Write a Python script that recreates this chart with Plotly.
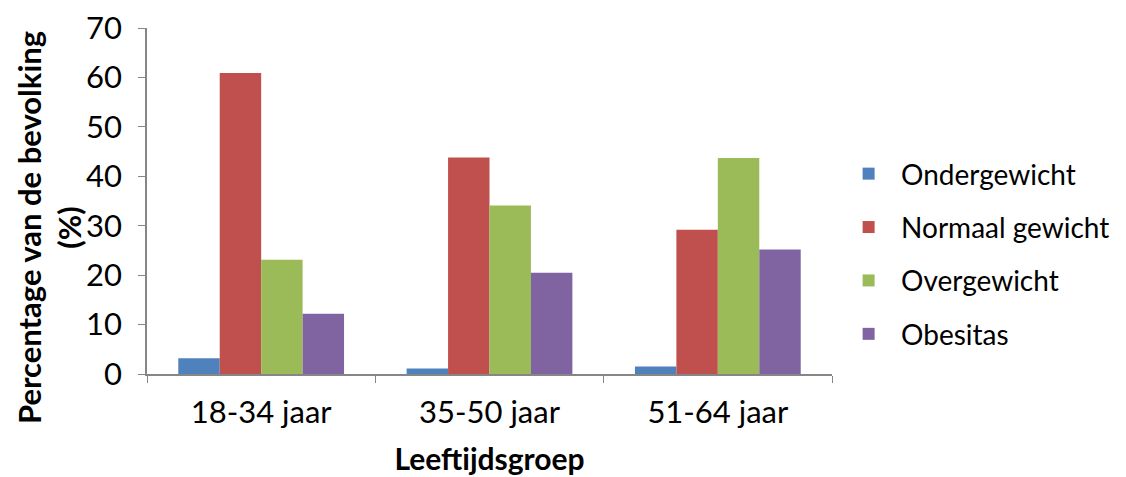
import plotly.graph_objects as go

categories = ["18-34 jaar", "35-50 jaar", "51-64 jaar"]
series_names = ["Ondergewicht", "Normaal gewicht", "Overgewicht", "Obesitas"]
ondergewicht = [3.2, 1.1, 1.5]
normaal_gewicht = [60.9, 43.8, 29.2]
overgewicht = [23.1, 34.1, 43.7]
obesitas = [12.2, 20.5, 25.2]
colors = ["#4F81BD", "#C0504D", "#9BBB59", "#8064A2"]
y_ticks = [0, 10, 20, 30, 40, 50, 60, 70]

fig = go.Figure()
for i, (name, vals) in enumerate(zip(series_names, [ondergewicht, normaal_gewicht, overgewicht, obesitas])):
    fig.add_trace(go.Bar(x=categories, y=vals, name=name, marker_color=colors[i],
                         marker_line_width=0, legendgroup=name))

font_family = "Lato, Carlito, Calibri, sans-serif"
fig.update_layout(
    width=1118, height=469,
    margin=dict(l=139, r=294, t=20, b=103, autoexpand=False),
    paper_bgcolor="white", plot_bgcolor="white",
    barmode="group", bargap=0.274, bargroupgap=0,
    font=dict(family=font_family, size=31, color="black"),
    showlegend=True,
    legend=dict(x=1.006, xanchor="left", y=0.347, yanchor="middle",
                font=dict(size=28), tracegroupgap=14, traceorder="grouped",
                itemwidth=55),
    xaxis=dict(showline=True, linecolor="#868686", linewidth=1.5, automargin=False,
               ticks="outside", tickson="boundaries", ticklen=7, tickcolor="#868686",
               tickfont=dict(size=31), ticklabelstandoff=10, ticklabeloverflow="allow",
               title=dict(text="<b>Leeftijdsgroep</b>", font=dict(size=30), standoff=20)),
    yaxis=dict(range=[0, 70], tickvals=y_ticks, showline=True, linecolor="#868686", linewidth=1.5,
               automargin=False, ticklabeloverflow="allow",
               ticks="outside", ticklen=7, tickcolor="#868686", showgrid=False, zeroline=False,
               tickfont=dict(size=31), ticklabelstandoff=10),
    annotations=[dict(text="<b>Percentage van de bevolking<br>(%)</b>", textangle=-90,
                      xref="paper", yref="paper", x=-0.143, y=0.422,
                      xanchor="center", yanchor="middle", showarrow=False,
                      font=dict(size=31, family=font_family, color="black"))],
)
fig.write_html("out.html")
